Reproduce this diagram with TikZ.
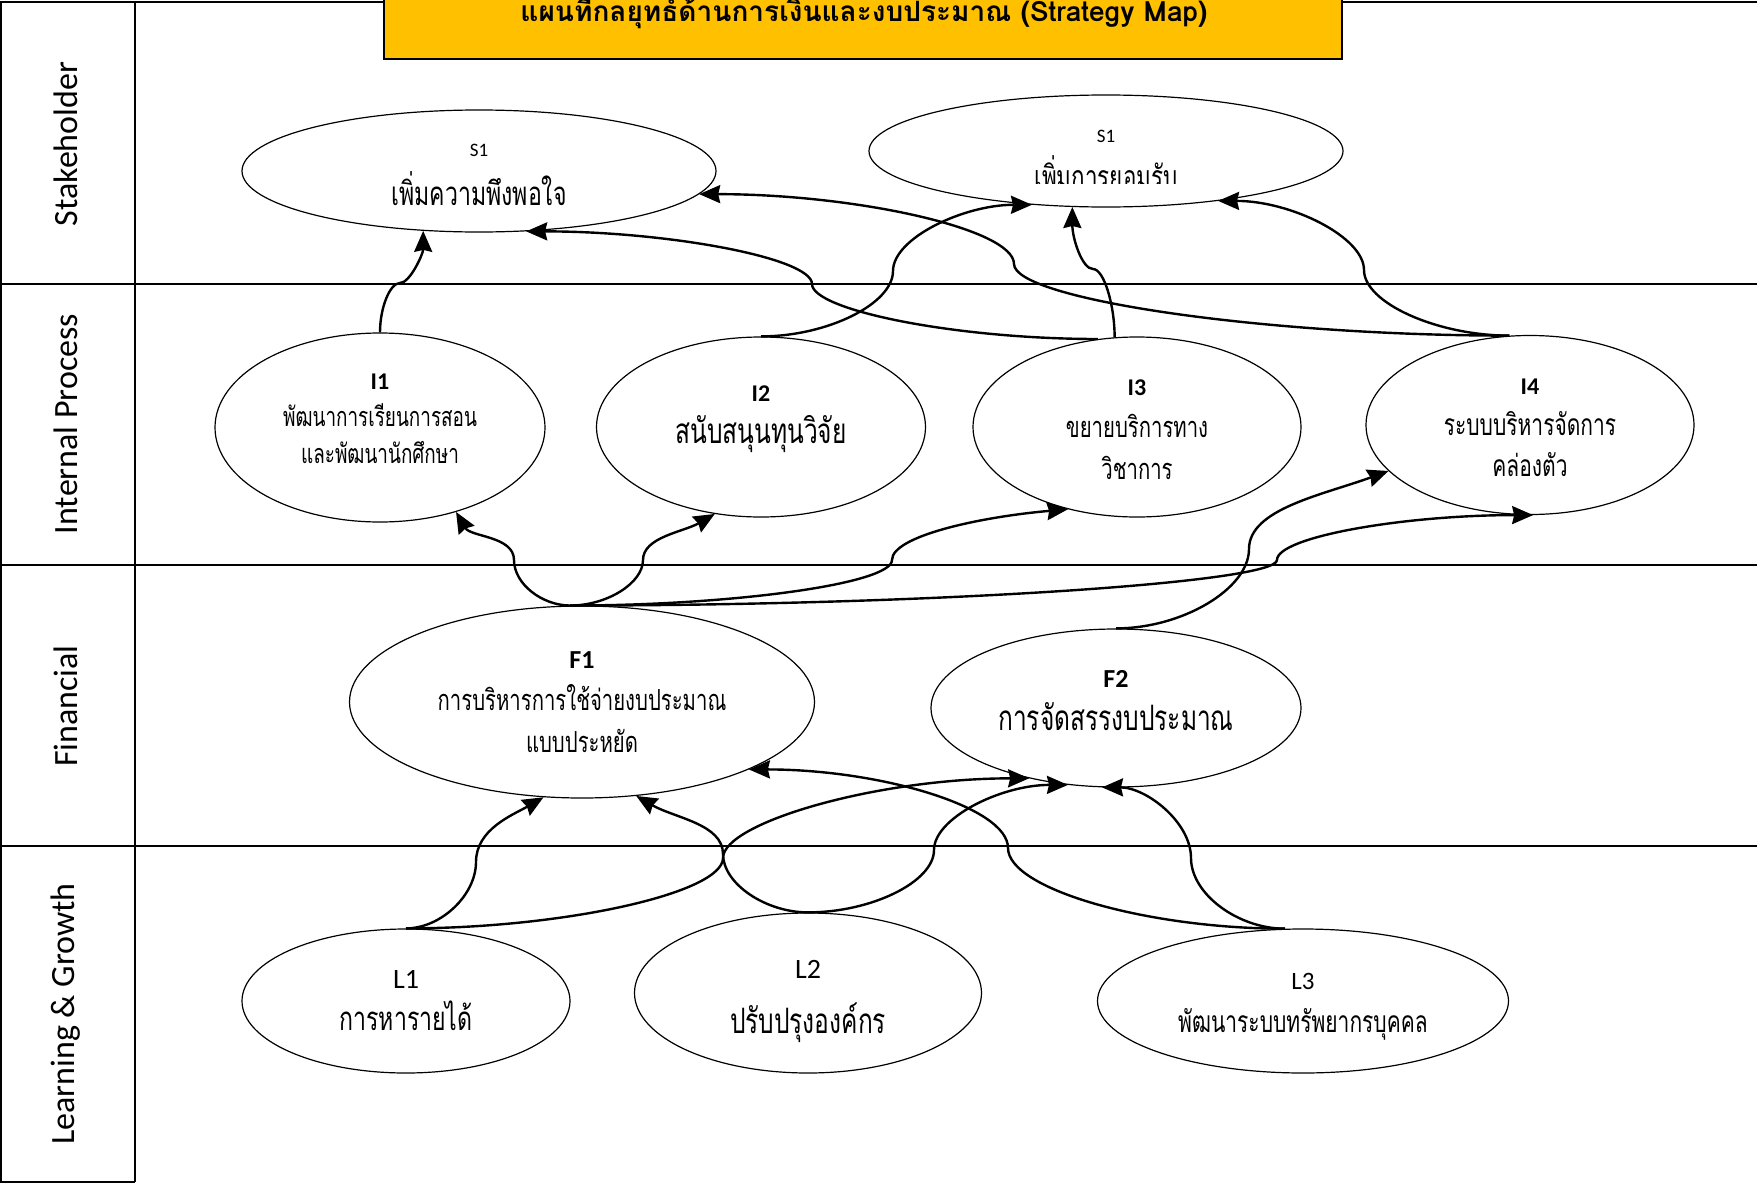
\documentclass[tikz,border=0pt]{standalone}
\usepackage{fontspec}
\setmainfont{Carlito}
\newfontfamily\thai[Script=Thai,FakeStretch=0.7]{Loma}
\newfontfamily\thaihead[Script=Thai]{Loma}
\usetikzlibrary{shapes.geometric,arrows.meta}
\definecolor{titlegold}{RGB}{255,192,0}
\newcommand{\goalid}[2]{{\normalfont\fontsize{#1}{#1}\selectfont #2}}

\begin{document}
\begin{tikzpicture}[x=1pt,y=1pt,
  goal/.style={ellipse,draw,line width=1.2pt,inner sep=0pt,align=center},
  link/.style={-{Stealth[length=21pt,width=18pt,inset=2pt]},line width=2.4pt},
  dist/.style 2 args={out distance=#1pt,in distance=#2pt},
  lane/.style={line width=2pt},
  lanename/.style={rotate=90,font=\fontsize{34}{38}\selectfont}]

  \useasboundingbox (0,0) rectangle (1757,-1183);

  % lanes
  \draw[lane] (0,-2) -- (1757,-2);
  \draw[lane] (0,-283.5) -- (1757,-283.5);
  \draw[lane] (0,-564.5) -- (1757,-564.5);
  \draw[lane] (0,-846) -- (1757,-846);
  \draw[lane] (1,-2) -- (1,-1182) -- (134.5,-1182);
  \draw[lane] (134.5,-2) -- (134.5,-1182);
  \node[lanename] (stk) at (66,-144) {Stakeholder};
  \node[lanename] (ip) at (66,-424) {Internal Process};
  \node[lanename] (fin) at (66,-706) {Financial};
  \node[lanename] (lg) at (66,-1014) {Learning \& Growth};

  % title
  \node[draw,line width=2pt,fill=titlegold,minimum width=958,minimum height=80] (title) at (863,-19) {};
  \node[font=\thaihead\bfseries\fontsize{28}{32}\selectfont] (titletext) at (864,-11)
    {แผนที่กลยุทธ์ด้านการเงินและงบประมาณ (Strategy Map)};

  % goals
  \node[goal,minimum width=474,minimum height=122,font=\thai\fontsize{33}{49}\selectfont] (S1a) at (479,-171)
    {\rule{0pt}{21pt}\goalid{19}{S1}\\ เพิ่มความพึงพอใจ};
  \node[goal,minimum width=474,minimum height=112] (S1b) at (1106,-151) {};
  \node[font=\fontsize{19}{22}\selectfont] (S1bid) at (1106,-136) {S1};
  \begin{scope}
    \clip (880,-100) rectangle (1330,-183);
    \node[anchor=base,font=\thai\fontsize{32}{36}\selectfont] (S1btext) at (1106,-188.5) {เพิ่มการยอมรับ};
  \end{scope}

  \node[goal,minimum width=330,minimum height=189,text depth=17pt,font=\thai\fontsize{27}{37}\selectfont] (I1) at (380,-427.5)
    {\goalid{24}{\bfseries I1}\\ พัฒนาการเรียนการสอน\\ และพัฒนานักศึกษา};
  \node[goal,minimum width=329,minimum height=180,text depth=25pt,font=\thai\fontsize{35}{42}\selectfont] (I2) at (761,-427)
    {\goalid{24}{\bfseries I2}\\ สนับสนุนทุนวิจัย};
  \node[goal,minimum width=328,minimum height=180,font=\thai\fontsize{29}{42}\selectfont] (I3) at (1137,-427)
    {\rule{0pt}{22pt}\goalid{24}{\bfseries I3}\\ ขยายบริการทาง\\ วิชาการ};
  \node[goal,minimum width=328,minimum height=179,font=\thai\fontsize{30}{41}\selectfont] (I4) at (1530,-425)
    {\rule{0pt}{21pt}\goalid{24}{\bfseries I4}\\ ระบบบริหารจัดการ\\ คล่องตัว};

  \node[goal,minimum width=465,minimum height=192,font=\thai\fontsize{29}{42}\selectfont] (F1) at (582,-702)
    {\goalid{26}{\bfseries F1}\\ การบริหารการใช้จ่ายงบประมาณ\\ แบบประหยัด};
  \node[goal,minimum width=370,minimum height=158,text depth=15pt,font=\thai\fontsize{35}{43}\selectfont] (F2) at (1116,-708)
    {\goalid{26}{\bfseries F2}\\ การจัดสรรงบประมาณ};

  \node[goal,minimum width=328,minimum height=144,font=\thai\fontsize{33}{42}\selectfont] (L1) at (406,-1001)
    {\goalid{28}{L1}\\ การหารายได้};
  \node[goal,minimum width=347,minimum height=160,font=\thai\fontsize{35}{55}\selectfont] (L2) at (808,-993)
    {\rule{0pt}{36pt}\goalid{28}{L2}\\ ปรับปรุงองค์กร};
  \node[goal,minimum width=411,minimum height=144,font=\thai\fontsize{30}{43}\selectfont] (L3) at (1303,-1001)
    {\rule{0pt}{28pt}\goalid{25}{L3}\\ พัฒนาระบบทรัพยากรบุคคล};

  % internal -> stakeholder
  \draw[link] (I1.north) to[out=90,in=180,dist={25}{10}] (400,-283) to[out=0,in=-90,dist={10}{23}] (S1a.-133);
  \draw[link] (I2.north) to[out=0,in=-90,dist={66}{33}] (893,-271) to[out=90,in=180,dist={33}{68}] (S1b.-144);
  \draw[link] (I3.104) to[out=90,in=0,dist={32}{11}] (1093,-269) to[out=180,in=-90,dist={11}{31}] (S1b.-121);
  \draw[link] (I3.114) to[out=180,in=-90,dist={143}{26}] (812,-284) to[out=90,in=0,dist={26}{142}] (S1a.-52);
  \draw[link] (I4.103) to[out=180,in=-90,dist={247}{35}] (1014,-264) to[out=90,in=0,dist={35}{157}] (S1a.-6);
  \draw[link] (I4.103) to[out=180,in=-90,dist={72}{33}] (1364,-270) to[out=90,in=0,dist={33}{73}] (S1b.-24);

  % financial -> internal
  \draw[link] (F1.97) to[out=180,in=-90,dist={28}{24}] (514,-560) to[out=90,in=-60,dist={24}{29}] (I1.-48);
  \draw[link] (F1.97) to[out=0,in=-90,dist={37}{23}] (643,-560) to[out=90,in=-150,dist={23}{36}] (I2.-118);
  \draw[link] (F1.97) to[out=0,in=-90,dist={161}{24}] (892,-560) to[out=90,in=185,dist={24}{88}] (I3.-130);
  \draw[link] (F1.97) to[out=0,in=-90,dist={353}{23}] (1277,-560) to[out=90,in=180,dist={23}{130}] (I4.-88);
  \draw[link] (F2.north) to[out=0,in=-90,dist={66}{40}] (1249,-549) to[out=90,in=200,dist={40}{70}] (I4.-162);

  % learning -> financial
  \draw[link] (L1.north) to[out=0,in=-90,dist={35}{33}] (476,-862) to[out=90,in=210,dist={33}{35}] (F1.-112);
  \draw[link] (L1.north) to[out=0,in=-90,dist={158}{35}] (723,-858) to[out=90,in=180,dist={35}{153}] (F2.-141);
  \draw[link] (L2.north) to[out=180,in=-90,dist={42}{30}] (723,-854) to[out=90,in=-30,dist={30}{44}] (F1.-60);
  \draw[link] (L2.north) to[out=0,in=-90,dist={63}{32}] (934,-850) to[out=90,in=180,dist={32}{67}] (F2.-122);
  \draw[link] (L3.104) to[out=180,in=-90,dist={138}{41}] (1008,-848) to[out=90,in=0,dist={41}{131}] (F1.-22);
  \draw[link] (L3.104) to[out=180,in=-90,dist={47}{36}] (1191,-858) to[out=90,in=0,dist={36}{44}] (F2.-100);
\end{tikzpicture}
\end{document}
